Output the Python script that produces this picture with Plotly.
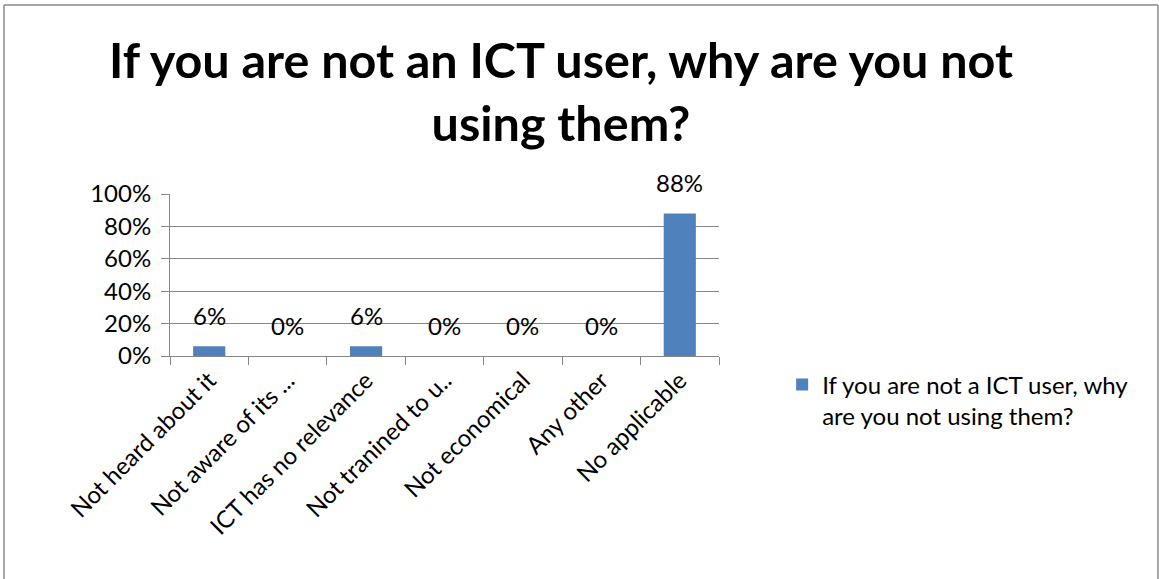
import plotly.graph_objects as go

categories = ["Not heard about it", "Not aware of its ...", "ICT has no relevance",
              "Not tranined to u..", "Not economical", "Any other", "No applicable"]
values = [0.06, 0.0, 0.06, 0.0, 0.0, 0.0, 0.88]
labels = ["6%", "0%", "6%", "0%", "0%", "0%", "88%"]
series_name = "If you are not a ICT user, why<br>are you not using them?"
title_text = "If you are not an ICT user, why are you not<br>using them?"
ytickvals = [0, 0.2, 0.4, 0.6, 0.8, 1.0]
yticktext = ["0%", "20%", "40%", "60%", "80%", "100%"]

FONT = "Lato, Calibri, sans-serif"
GRID = "#868686"

fig = go.Figure()
fig.add_trace(go.Bar(
    x=categories, y=values, name=series_name,
    marker=dict(color="#4F81BD", line=dict(width=0)),
    width=0.41, showlegend=True,
))

for c, v, t in zip(categories, values, labels):
    fig.add_annotation(x=c, y=v, text=t, showarrow=False, xref="x", yref="y",
                       yanchor="bottom", yshift=14,
                       font=dict(family=FONT, size=24, color="#000"))

# outer border of chart area
for x0, y0, x1, y1 in [(-0.3024, 2.1667, 1.7996, 2.1667),
                       (-0.3024, 2.1667, -0.3024, -1.5),
                       (1.7996, 2.1667, 1.7996, -1.5)]:
    fig.add_shape(type="line", xref="paper", yref="paper", x0=x0, y0=y0, x1=x1, y1=y1,
                  line=dict(color="#8a8a8a", width=1.5))

fig.update_layout(
    width=1159, height=579,
    margin=dict(l=170, r=440, t=194, b=223, autoexpand=False),
    paper_bgcolor="white", plot_bgcolor="white",
    title=dict(text=title_text, x=561/1159, xanchor="center",
               y=(579-78)/579, yanchor="middle", yref="container",
               font=dict(family=FONT, size=48.5, color="#000", weight="bold")),
    font=dict(family=FONT, size=24, color="#000"),
    legend=dict(x=1.115, y=-0.04, xanchor="left", yanchor="top", valign="top",
                font=dict(family=FONT, size=24, color="#000"),
                bgcolor="rgba(0,0,0,0)"),
    bargap=0.59,
)
fig.update_yaxes(range=[0, 1.0], tickvals=ytickvals, ticktext=yticktext,
                 showgrid=True, gridcolor=GRID, gridwidth=1,
                 showline=True, linecolor=GRID, linewidth=1,
                 ticks="outside", ticklen=8, tickcolor=GRID, ticklabelstandoff=5,
                 zeroline=False, tickfont=dict(family=FONT, size=24))
fig.update_xaxes(showline=True, linecolor=GRID, linewidth=1,
                 ticks="outside", ticklen=8, tickcolor=GRID,
                 tickson="boundaries", tickangle=-45, showgrid=False,
                 tickfont=dict(family=FONT, size=24))

fig.write_html("out.html", config={"displayModeBar": False},
               post_script="document.body.style.margin='0';document.body.style.overflow='hidden';")
